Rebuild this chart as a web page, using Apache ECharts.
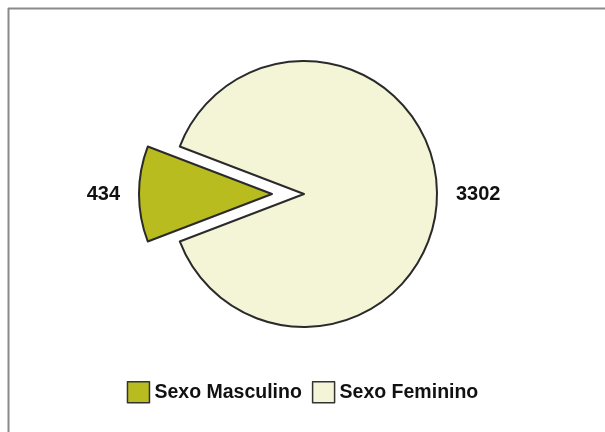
<!DOCTYPE html>
<html>
<head>
<meta charset="utf-8">
<title>Sexo</title>
<script src="https://cdn.jsdelivr.net/npm/echarts@6/dist/echarts.min.js"></script>
<style>
  html, body { margin: 0; padding: 0; background: #ffffff; }
  #chart { width: 605px; height: 432px; }
</style>
</head>
<body>
<div id="chart"></div>
<script>
// Categories and values
const categories = ['Sexo Masculino', 'Sexo Feminino'];
const values = [434, 3302];
const colors = ['#b9bc1f', '#f3f5d6'];

const total = values.reduce((a, b) => a + b, 0);
// centre the small slice on the left side of the pie
const startAngle = 180 + (values[0] / total) * 360 / 2;

const chart = echarts.init(document.getElementById('chart'));
chart.setOption({
  backgroundColor: '#ffffff',
  animation: false,
  textStyle: { fontFamily: 'Liberation Sans, Arial, sans-serif' },
  graphic: [
    { type: 'line', shape: { x1: 8, y1: 8.5, x2: 605, y2: 8.5 }, style: { stroke: '#8a8a8a', lineWidth: 2 } },
    { type: 'line', shape: { x1: 8.5, y1: 8, x2: 8.5, y2: 432 }, style: { stroke: '#8a8a8a', lineWidth: 2 } }
  ],
  legend: {
    data: categories,
    top: 376,
    left: 'center',
    icon: 'rect',
    itemWidth: 22,
    itemHeight: 21,
    itemGap: 10,
    selectedMode: false,
    textStyle: { fontSize: 19.5, fontWeight: 'bold', color: '#111111', fontFamily: 'Liberation Sans, Arial, sans-serif' },
    itemStyle: { borderColor: '#333333', borderWidth: 1.5 }
  },
  series: [{
    type: 'pie',
    center: [272, 194],
    radius: 133,
    startAngle: startAngle,
    clockwise: true,
    selectedMode: 'single',
    selectedOffset: 32,
    avoidLabelOverlap: false,
    emphasis: { disabled: true },
    itemStyle: { borderColor: '#2a2a2a', borderWidth: 2 },
    label: {
      show: true,
      position: 'outside',
      formatter: '{c}',
      fontSize: 20,
      fontWeight: 'bold',
      color: '#111111',
      fontFamily: 'Liberation Sans, Arial, sans-serif'
    },
    labelLine: { show: false, length: 8, length2: 6 },
    data: categories.map((name, i) => ({
      name: name,
      value: values[i],
      selected: i === 1,
      itemStyle: { color: colors[i] }
    }))
  }]
});
</script>
</body>
</html>
